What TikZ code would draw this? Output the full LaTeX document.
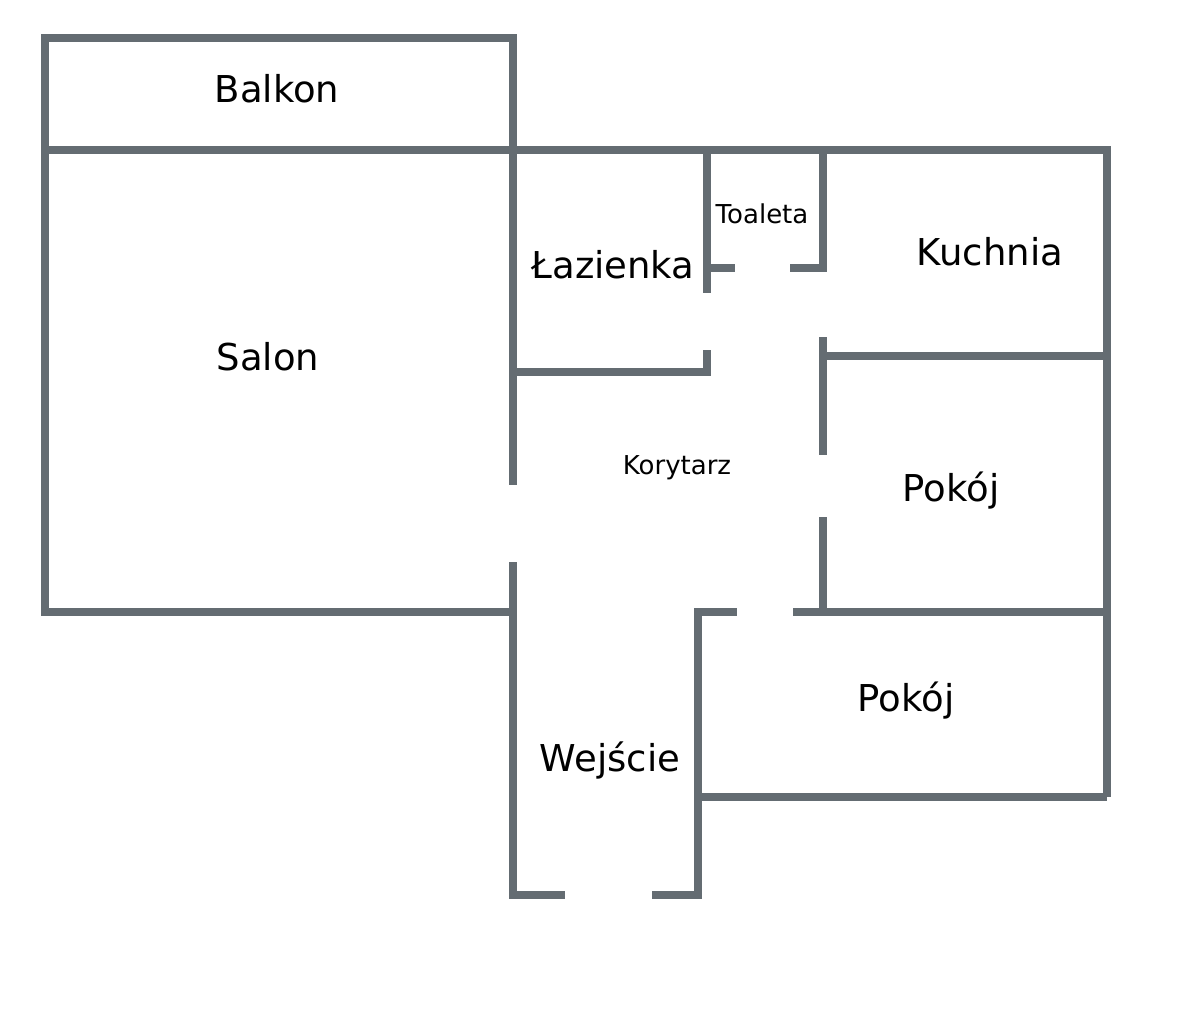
\documentclass[tikz,border=0pt]{standalone}
\usepackage{fontspec}
\setmainfont{DejaVu Sans}
\definecolor{wallgray}{HTML}{646C72}
\begin{document}
\begin{tikzpicture}[x=1pt,y=-1pt,
		wall/.style={draw=wallgray,line width=8pt},
		room/.style={font=\fontsize{37}{42}\selectfont},
		smallroom/.style={font=\fontsize{26}{30}\selectfont}
		]
		\useasboundingbox (0,0) rectangle (1200,1009);
		% outer walls
		\draw[wall] (45,150) -- (45,38) -- (513,38) -- (513,150);
		\draw[wall] (45,150) -- (1107,150) -- (1107,797);
		\draw[wall] (45,150) -- (45,612) -- (513,612);
		\draw[wall] (513,150) -- (513,485);
		\draw[wall] (513,562) -- (513,895) -- (565,895);
		\draw[wall] (652,895) -- (698,895) -- (698,612) -- (737,612);
		\draw[wall] (793,612) -- (1107,612);
		\draw[wall] (698,797) -- (1107,797);
		% inner walls
		\draw[wall] (513,372) -- (707,372) -- (707,350);
		\draw[wall] (707,150) -- (707,293);
		\draw[wall] (707,268) -- (735,268);
		\draw[wall] (790,268) -- (823,268) -- (823,150);
		\draw[wall] (823,337) -- (823,455);
		\draw[wall] (823,517) -- (823,612);
		\draw[wall] (823,356) -- (1107,356);
		% labels
		\node[room] (balkon) at (277,89) {Balkon};
		\node[room] (salon) at (268,357) {Salon};
		\node[room] (lazienka) at (613,265) {Łazienka};
		\node[smallroom] (toaleta) at (762,214) {Toaleta};
		\node[room] (kuchnia) at (990,252) {Kuchnia};
		\node[smallroom] (korytarz) at (677,468) {Korytarz};
		\node[room] (pokoj1) at (951,491) {Pokój};
		\node[room] (pokoj2) at (906,701) {Pokój};
		\node[room] (wejscie) at (610,760) {Wejście};
\end{tikzpicture}
\end{document}
